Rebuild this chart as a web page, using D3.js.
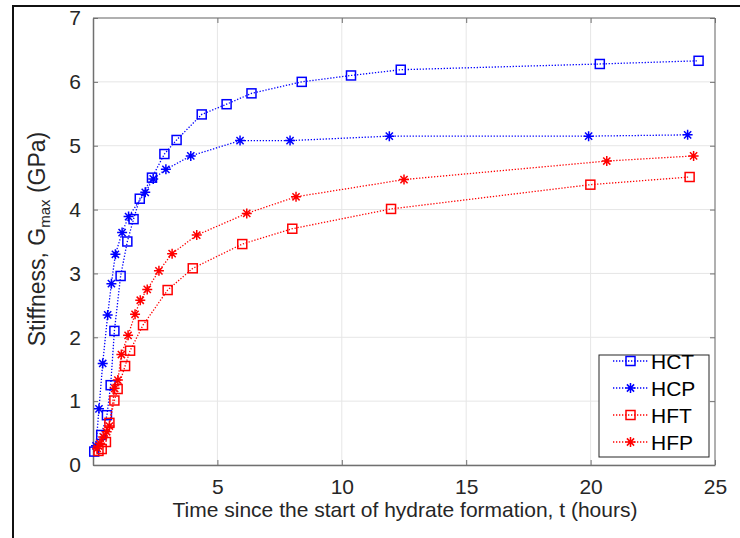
<!DOCTYPE html>
<html><head><meta charset="utf-8">
<script src="https://cdn.jsdelivr.net/npm/d3@7"></script>
<style>
html,body{margin:0;padding:0;background:#fff;}
svg{display:block;font-family:"Liberation Sans",Arial,sans-serif;}
</style></head>
<body><svg id="c" width="740" height="538"></svg>
<script>
const xTicks = [5, 10, 15, 20, 25];
const yTicks = [0, 1, 2, 3, 4, 5, 6, 7];
const seriesNames = ["HCT", "HCP", "HFT", "HFP"];

const hctT = [0.05, 0.33, 0.56, 0.71, 0.86, 1.11, 1.38, 1.63, 1.88, 2.37, 2.87, 3.36, 4.37, 5.37, 6.37, 8.39, 10.37, 12.37, 20.37, 24.34];
const hctG = [0.21, 0.47, 0.78, 1.25, 2.10, 2.96, 3.50, 3.85, 4.17, 4.50, 4.87, 5.09, 5.49, 5.65, 5.82, 6.00, 6.10, 6.19, 6.28, 6.33];

const hcpT = [0.12, 0.24, 0.39, 0.59, 0.74, 0.90, 1.17, 1.43, 2.10, 2.42, 2.93, 3.93, 5.91, 7.92, 11.91, 19.92, 23.90];
const hcpG = [0.30, 0.88, 1.59, 2.35, 2.84, 3.30, 3.64, 3.89, 4.27, 4.48, 4.63, 4.84, 5.08, 5.08, 5.15, 5.15, 5.17];

const hftT = [0.22, 0.35, 0.52, 0.66, 0.86, 0.99, 1.29, 1.49, 2.01, 3.00, 4.01, 6.00, 8.01, 11.98, 19.99, 23.98];
const hftG = [0.22, 0.25, 0.36, 0.66, 1.01, 1.19, 1.55, 1.79, 2.19, 2.74, 3.08, 3.46, 3.70, 4.01, 4.39, 4.51];

const hfpT = [0.17, 0.28, 0.41, 0.55, 0.66, 0.87, 1.00, 1.14, 1.41, 1.69, 1.90, 2.18, 2.65, 3.18, 4.17, 6.18, 8.16, 12.50, 20.65, 24.14];
const hfpG = [0.26, 0.34, 0.44, 0.52, 0.61, 1.20, 1.33, 1.73, 2.03, 2.36, 2.58, 2.75, 3.04, 3.31, 3.60, 3.94, 4.20, 4.47, 4.76, 4.84];

const series = [
  {name: seriesNames[0], t: hctT, g: hctG, color: "#0000ff", marker: "square"},
  {name: seriesNames[1], t: hcpT, g: hcpG, color: "#0000ff", marker: "star"},
  {name: seriesNames[2], t: hftT, g: hftG, color: "#ff0000", marker: "square"},
  {name: seriesNames[3], t: hfpT, g: hfpG, color: "#ff0000", marker: "star"}
];

const L = 93, R = 715, T = 18, B = 465;
const svg = d3.select("#c");
const x = d3.scaleLinear().domain([0, 25]).range([L, R]);
const y = d3.scaleLinear().domain([0, 7]).range([B, T]);
const txt = "#262626";
const FS = "21px";

// outer frame
svg.append("line").attr("x1", 13).attr("x2", 740).attr("y1", 6).attr("y2", 6).attr("stroke", "#111").attr("stroke-width", 2);
svg.append("line").attr("x1", 13).attr("x2", 13).attr("y1", 5).attr("y2", 538).attr("stroke", "#111").attr("stroke-width", 2);

// grid
const g = svg.append("g");
g.selectAll(".gx").data(xTicks).join("line")
  .attr("x1", d => x(d)).attr("x2", d => x(d)).attr("y1", T).attr("y2", B)
  .attr("stroke", "#e6e6e6").attr("stroke-width", 1);
g.selectAll(".gy").data(yTicks).join("line")
  .attr("x1", L).attr("x2", R).attr("y1", d => y(d)).attr("y2", d => y(d))
  .attr("stroke", "#e6e6e6").attr("stroke-width", 1);

// box top/right
svg.append("line").attr("x1", L).attr("x2", R).attr("y1", T).attr("y2", T).attr("stroke", "#9a9a9a").attr("stroke-width", 1.5);
svg.append("line").attr("x1", R).attr("x2", R).attr("y1", T).attr("y2", B).attr("stroke", "#9a9a9a").attr("stroke-width", 1.5);

// axes
const xAxis = d3.axisBottom(x).tickValues(xTicks).tickSizeInner(-5).tickSizeOuter(0).tickPadding(14).tickFormat(d3.format("d"));
const yAxis = d3.axisLeft(y).tickValues(yTicks).tickSizeInner(-5).tickSizeOuter(0).tickPadding(12).tickFormat(d3.format("d"));
const gx = svg.append("g").attr("transform", `translate(0,${B})`).call(xAxis);
const gy = svg.append("g").attr("transform", `translate(${L},0)`).call(yAxis);
[gx, gy].forEach(a => {
  a.select(".domain").attr("stroke", "#707070").attr("stroke-width", 1.5);
  a.selectAll(".tick line").attr("stroke", "#707070").attr("stroke-width", 1);
  a.selectAll("text").attr("fill", txt).style("font-size", FS).style("font-family", "'Liberation Sans',Arial,sans-serif");
});
// top/right ticks
const topAxis = d3.axisTop(x).tickValues(xTicks).tickSizeInner(-5).tickSizeOuter(0).tickFormat("");
const rightAxis = d3.axisRight(y).tickValues(yTicks).tickSizeInner(-5).tickSizeOuter(0).tickFormat("");
const gt = svg.append("g").attr("transform", `translate(0,${T})`).call(topAxis);
const gr = svg.append("g").attr("transform", `translate(${R},0)`).call(rightAxis);
[gt, gr].forEach(a => { a.select(".domain").remove(); a.selectAll(".tick line").attr("stroke", "#707070"); });

// labels
svg.append("text").attr("x", 405).attr("y", 517).attr("text-anchor", "middle")
  .attr("fill", txt).style("font-size", FS).text("Time since the start of hydrate formation, t (hours)");
const yl = svg.append("text").attr("transform", `translate(45,239) rotate(-90)`).attr("text-anchor", "middle")
  .attr("fill", txt).style("font-size", "23px");
yl.append("tspan").text("Stiffness, G");
yl.append("tspan").attr("dy", 5).style("font-size", "15px").text("max");
yl.append("tspan").attr("dy", -5).text(" (GPa)");

// marker drawing
function drawMarker(sel, type, color) {
  if (type === "square") {
    sel.append("rect").attr("x", -4.5).attr("y", -4.5).attr("width", 9).attr("height", 9)
      .attr("fill", "none").attr("stroke", color).attr("stroke-width", 1.5);
  } else {
    const r = 5, d = 3.6;
    const p = `M${-r},0L${r},0M0,${-r}L0,${r}M${-d},${-d}L${d},${d}M${-d},${d}L${d},${-d}`;
    sel.append("path").attr("d", p).attr("stroke", color).attr("stroke-width", 1.5).attr("fill", "none");
  }
}

const line = d3.line().x(d => x(d[0])).y(d => y(d[1]));
series.forEach(s => {
  const pts = s.t.map((t, i) => [t, s.g[i]]);
  svg.append("path").datum(pts).attr("d", line).attr("fill", "none")
    .attr("stroke", s.color).attr("stroke-width", 1.3).attr("stroke-dasharray", "1.3,1.7");
  const mg = svg.append("g");
  pts.forEach(p => {
    const m = mg.append("g").attr("transform", `translate(${x(p[0])},${y(p[1])})`);
    drawMarker(m, s.marker, s.color);
  });
});

// legend
const lg = svg.append("g");
lg.append("rect").attr("x", 599).attr("y", 355).attr("width", 110).attr("height", 102)
  .attr("fill", "#fff").attr("stroke", "#262626").attr("stroke-width", 1);
series.forEach((s, i) => {
  const yy = 361 + i * 27;
  lg.append("line").attr("x1", 613).attr("x2", 648).attr("y1", yy).attr("y2", yy)
    .attr("stroke", s.color).attr("stroke-width", 1.3).attr("stroke-dasharray", "1.3,1.7");
  const m = lg.append("g").attr("transform", `translate(630.5,${yy})`);
  drawMarker(m, s.marker, s.color);
  lg.append("text").attr("x", 651).attr("y", yy + 7.5).attr("fill", "#000").style("font-size", FS).text(s.name);
});
</script></body></html>
